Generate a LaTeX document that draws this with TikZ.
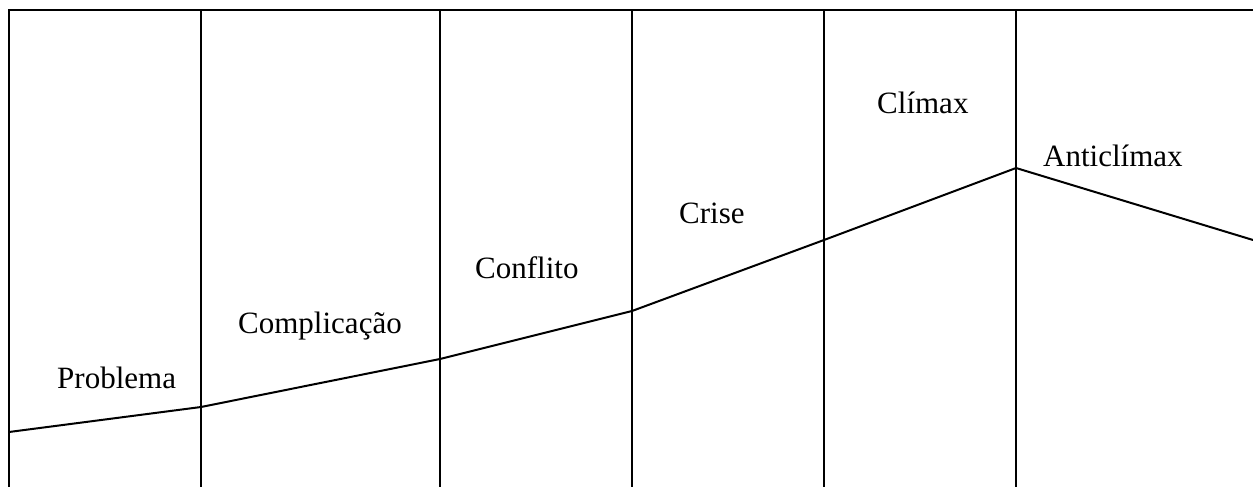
\documentclass[tikz,border=0pt]{standalone}
\usepackage{fontspec}
\setmainfont{Liberation Serif}
\begin{document}
\begin{tikzpicture}[x=1pt,y=-1pt,
  frameline/.style={line width=2pt,black},
  plotline/.style={line width=2pt,black,line join=miter},
  lbl/.style={inner sep=0pt,anchor=base west,font=\fontsize{31}{36}\selectfont}]
\useasboundingbox (0,0) rectangle (1253,487);
% frame
\coordinate (tl) at (8,10);
\coordinate (tr) at (1253,10);
\draw[frameline] (tl) -- (tr);
\foreach \x/\n in {9/v0,201/v1,440/v2,632/v3,824/v4,1016/v5}{
  \coordinate (\n t) at (\x,10);
  \coordinate (\n b) at (\x,487);
  \draw[frameline] (\n t) -- (\n b);
}
% curve
\coordinate (p0) at (9,432);
\coordinate (p1) at (201,407);
\coordinate (p2) at (440,359);
\coordinate (p3) at (632,311);
\coordinate (p4) at (824,240);
\coordinate (p5) at (1016,168);
\coordinate (p6) at (1253,240);
\draw[plotline] (p0) -- (p1) -- (p2) -- (p3) -- (p4) -- (p5) -- (p6);
% labels
\node[lbl] (problema) at (57,388) {Problema};
\node[lbl] (complicacao) at (238,333) {Complicação};
\node[lbl] (conflito) at (475,278) {Conflito};
\node[lbl] (crise) at (679,223) {Crise};
\node[lbl] (climax) at (877,113) {Clímax};
\node[lbl] (anticlimax) at (1043,166) {Anticlímax};
\end{tikzpicture}
\end{document}
